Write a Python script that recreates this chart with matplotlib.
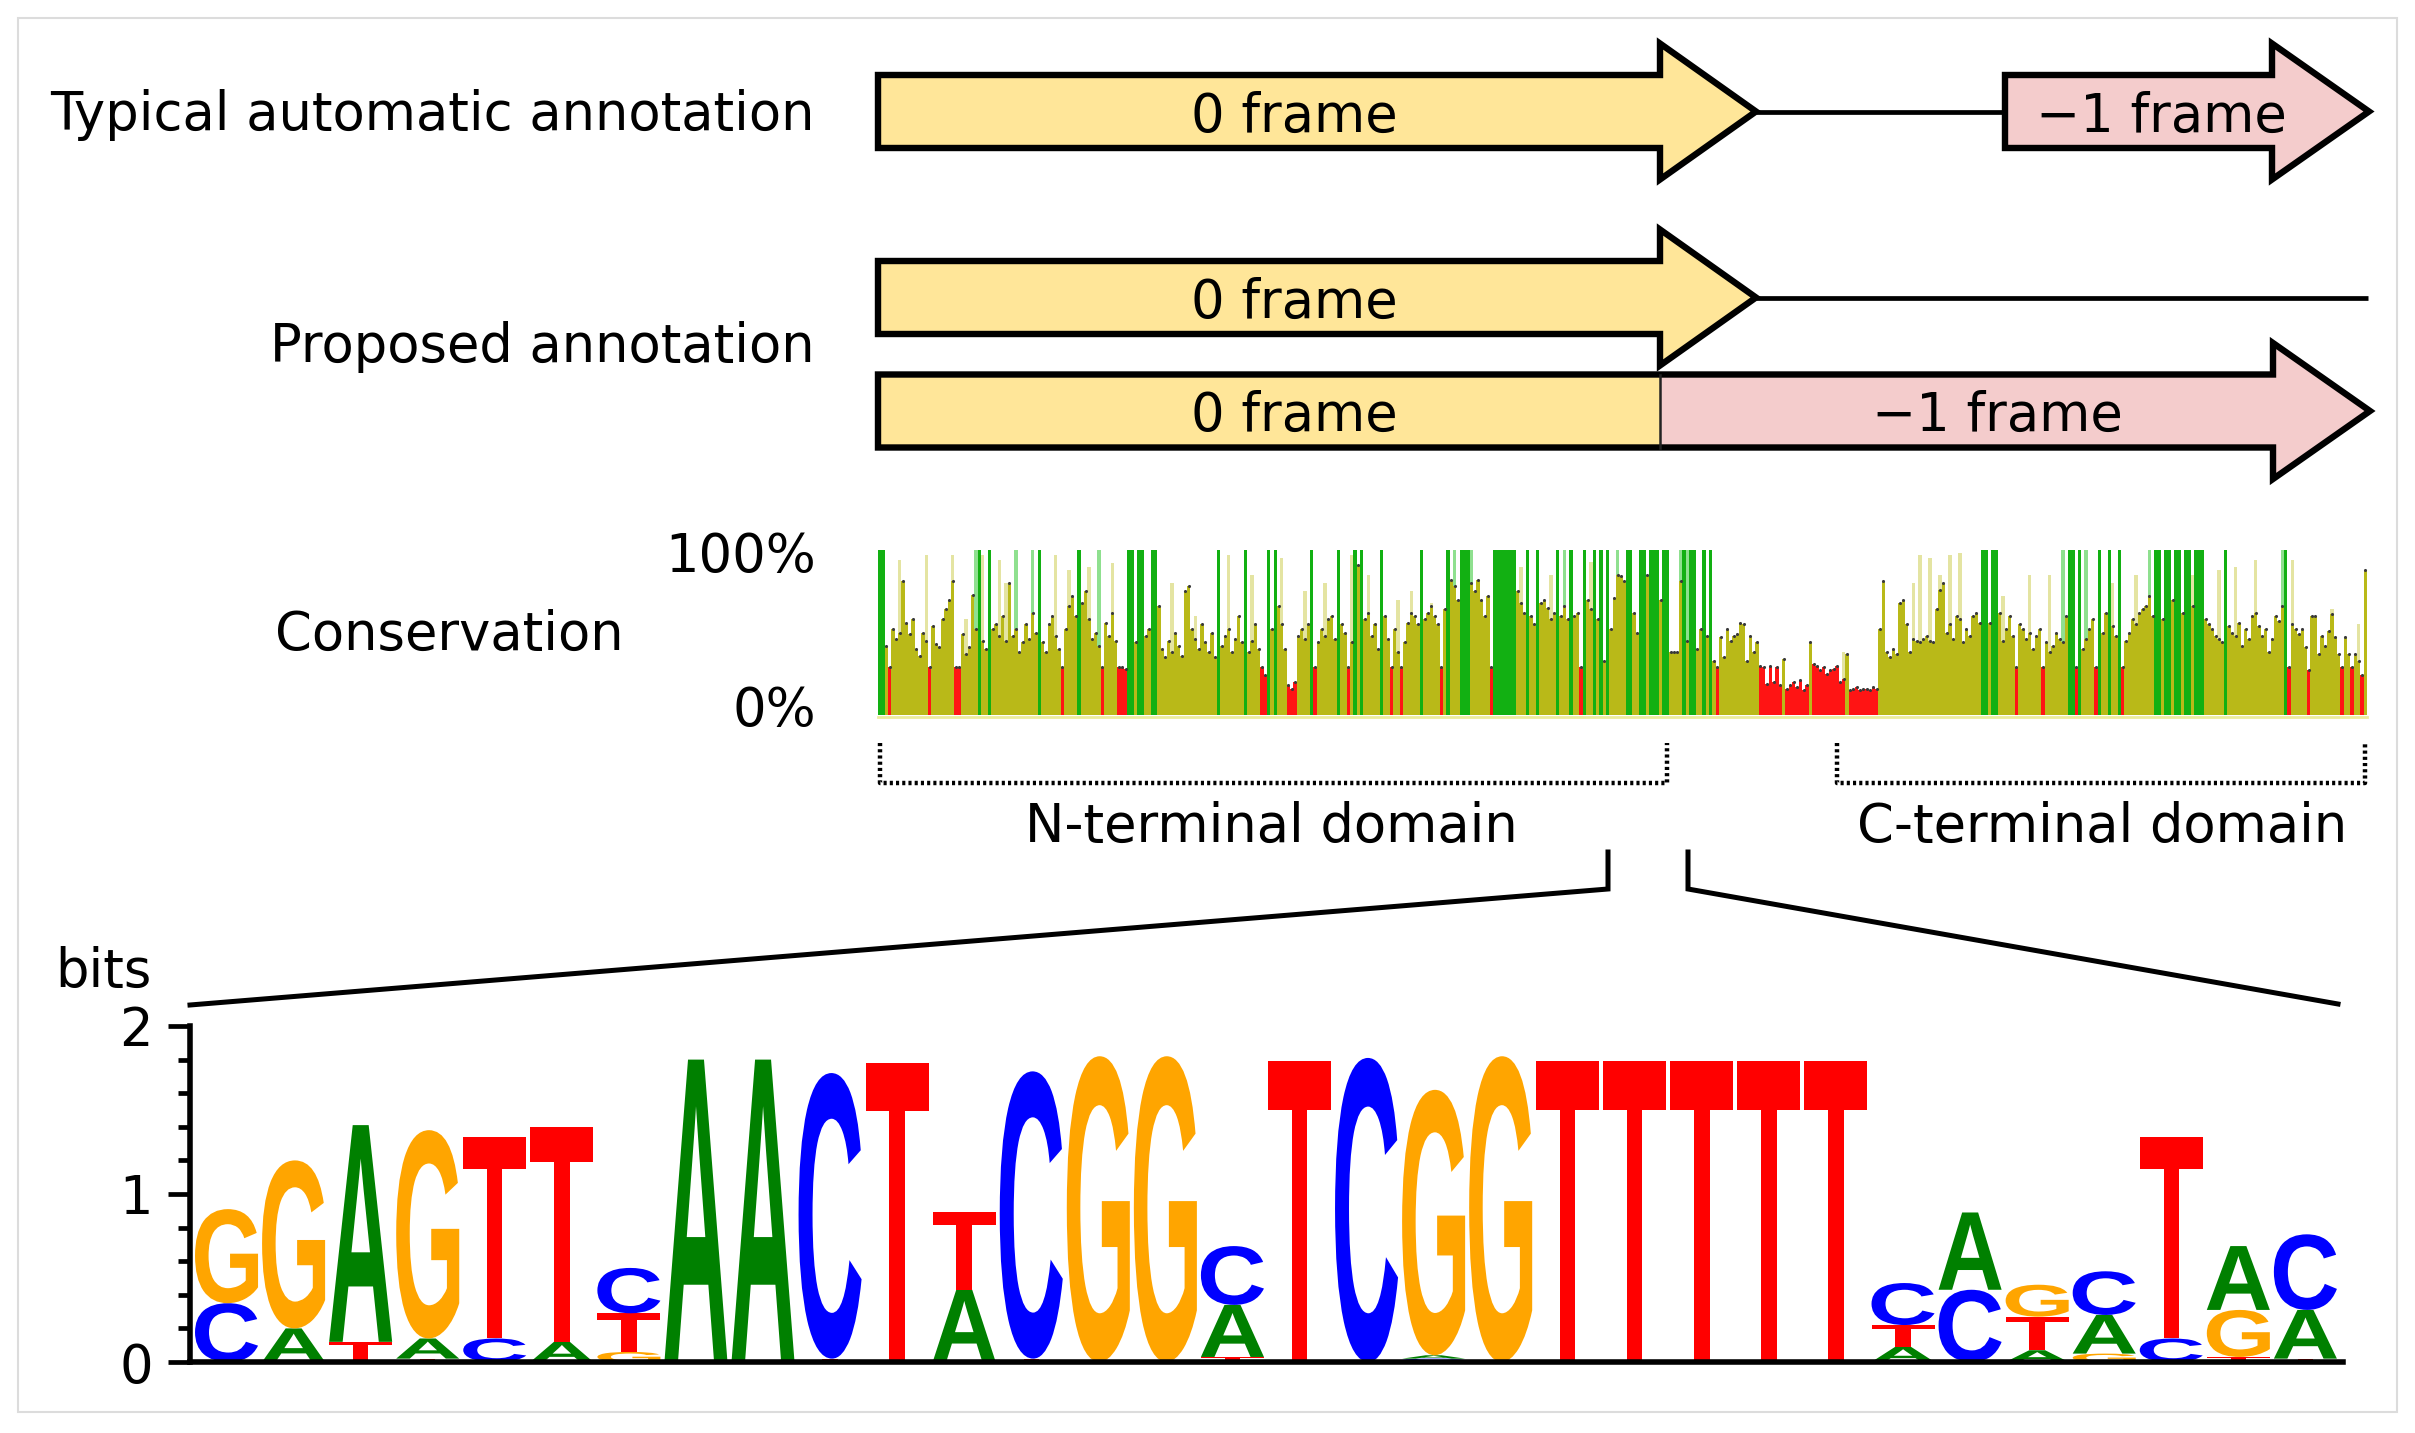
import numpy as np
import matplotlib
matplotlib.use("Agg")
import matplotlib.pyplot as plt
from matplotlib.patches import Polygon, Rectangle, PathPatch
from matplotlib.textpath import TextPath
from matplotlib.font_manager import FontProperties
from matplotlib.transforms import Affine2D
from matplotlib.ticker import MultipleLocator, FixedLocator

W, H = 2415, 1433

# ------------------------------------------------------------------ data
row_labels = ["Typical automatic annotation", "Proposed annotation", "Conservation"]
frame_labels = ["0 frame", "\u22121 frame"]
domain_labels = ["N-terminal domain", "C-terminal domain"]
cons_ticklabels = ["100%", "0%"]

# conservation per alignment column (percent)
conservation = [
    100, 100, 42, 29, 52, 46, 50, 81, 56, 49, 58, 40, 36, 50, 45, 29, 54, 43, 41, 58,
    64, 70, 81, 29, 29, 49, 37, 41, 73, 52, 100, 45, 40, 100, 52, 55, 48, 60, 45, 80,
    48, 52, 38, 44, 55, 46, 62, 50, 100, 44, 38, 55, 60, 48, 40, 29, 52, 66, 72, 60,
    100, 68, 75, 58, 46, 50, 42, 29, 56, 48, 62, 45, 29, 29, 28, 100, 100, 44, 100, 100,
    48, 52, 100, 100, 66, 40, 35, 45, 38, 50, 42, 36, 75, 78, 52, 46, 40, 55, 44, 38,
    50, 35, 100, 42, 48, 52, 38, 46, 60, 44, 100, 38, 45, 55, 40, 29, 24, 100, 52, 100,
    66, 55, 40, 18, 16, 20, 48, 52, 46, 55, 100, 29, 44, 52, 48, 58, 60, 46, 100, 55,
    50, 29, 44, 100, 91, 100, 58, 62, 48, 55, 40, 100, 60, 46, 29, 52, 38, 29, 44, 56,
    62, 60, 55, 100, 58, 62, 66, 60, 55, 29, 64, 100, 82, 78, 70, 100, 100, 100, 80, 75,
    82, 70, 60, 72, 29, 100, 100, 100, 100, 100, 100, 100, 75, 68, 62, 100, 60, 55, 100, 68,
    70, 65, 58, 62, 100, 60, 66, 58, 100, 60, 62, 29, 100, 70, 64, 100, 58, 100, 33, 100,
    52, 71, 85, 84, 81, 100, 100, 62, 50, 100, 100, 85, 100, 100, 100, 70, 100, 100, 38, 38,
    38, 81, 100, 45, 100, 100, 40, 52, 100, 48, 100, 33, 29, 47, 35, 52, 45, 48, 49, 56,
    55, 33, 48, 38, 44, 30, 29, 19, 30, 20, 29, 18, 34, 16, 18, 20, 17, 21, 15, 18,
    44, 31, 30, 27, 29, 25, 27, 28, 30, 20, 22, 37, 15, 16, 17, 15, 16, 16, 15, 17,
    16, 52, 81, 38, 35, 40, 37, 68, 70, 55, 38, 46, 45, 44, 46, 48, 45, 44, 64, 76,
    80, 50, 55, 46, 60, 58, 44, 52, 48, 60, 62, 56, 100, 100, 56, 100, 100, 62, 45, 52,
    60, 48, 29, 55, 52, 46, 50, 40, 48, 52, 29, 44, 38, 42, 50, 46, 44, 60, 100, 100,
    29, 100, 40, 46, 52, 58, 29, 100, 50, 62, 100, 54, 48, 100, 29, 45, 50, 58, 55, 62,
    64, 66, 72, 60, 100, 100, 58, 100, 100, 70, 100, 100, 62, 100, 100, 66, 100, 100, 100, 58,
    55, 52, 48, 46, 44, 100, 54, 50, 48, 56, 42, 52, 46, 60, 62, 54, 48, 52, 38, 46,
    60, 57, 66, 100, 29, 55, 52, 49, 52, 41, 27, 60, 60, 37, 48, 42, 51, 61, 47, 37,
    29, 47, 37, 29, 37, 33, 24, 88,
]

# lighter secondary bars drawn behind some columns
pale_index = [6, 14, 22, 26, 29, 31, 36, 38, 41, 46, 53, 57, 63, 66, 70, 88, 95, 105, 112,
              121, 128, 134, 142, 147, 156, 160, 166, 173, 178, 186, 193, 202, 206, 214,
              222, 241, 243, 250, 272, 290, 311, 313, 316, 319, 322, 325, 338, 346, 352,
              356, 363, 371, 378, 382, 391, 395, 403, 408, 414, 422, 425, 437, 445]
pale_value = [94, 97, 97, 58, 100, 97, 94, 80, 100, 100, 97, 88, 90, 100, 92, 80, 60, 97, 85,
              95, 75, 80, 97, 85, 70, 75, 68, 100, 100, 97, 90, 85, 100, 93,
              100, 100, 100, 100, 30, 38, 80, 97, 95, 85, 97, 98, 72, 85, 85,
              100, 100, 80, 85, 100, 82, 85, 88, 90, 94, 100, 94, 64, 55]

# sequence logo: letters bottom -> top and their heights (bits)
logo_letters = ["CG", "AG", "TA", "TAG", "CT", "AT", "GTC", "A", "A", "TC", "T", "AT",
                "TC", "G", "G", "TAC", "T", "C", "CAG", "G", "T", "T", "T", "T", "T",
                "ATC", "CA", "ATG", "GAC", "CT", "TGA", "TAC"]
logo_heights = [[0.35, 0.56], [0.20, 1.00], [0.12, 1.29], [0.02, 0.12, 1.24],
                [0.14, 1.20], [0.12, 1.28], [0.06, 0.23, 0.27], [1.80], [1.80],
                [0.02, 1.70], [1.78], [0.43, 0.46], [0.02, 1.71], [1.82], [1.82],
                [0.03, 0.31, 0.35], [1.79], [1.81], [0.02, 0.02, 1.58], [1.82],
                [1.79], [1.79], [1.79], [1.79], [1.79],
                [0.09, 0.13, 0.25], [0.43, 0.46], [0.07, 0.20, 0.19], [0.05, 0.23, 0.26],
                [0.14, 1.20], [0.03, 0.28, 0.38], [0.02, 0.29, 0.45]]
logo_yticks = [0, 1, 2]
logo_yticklabels = ["0", "1", "2"]

# ------------------------------------------------------------------ style
FS = 38
plt.rcParams["font.family"] = ["DejaVu Sans"]
YELLOW = "#ffe699"
PINK = "#f4cccc"
GREEN = "#12b012"
OLIVE = "#b9b918"
RED = "#ff1414"
PALE_GREEN = "#8fe08f"
PALE_OLIVE = "#e4e4a2"
base_colors = {"A": "#008000", "C": "#0000ff", "G": "#ffa500", "T": "#ff0000"}

fig = plt.figure(figsize=(W / 100, H / 100), dpi=100)


def fig_rect(x0, y0, x1, y1):
    """pixel box (top-left origin) -> figure fraction rect"""
    return [x0 / W, 1 - y1 / H, (x1 - x0) / W, (y1 - y0) / H]


# ------------------------------------------------------------------ conservation bars
ca = fig.add_axes(fig_rect(878, 550, 2367, 715))
n = len(conservation)
vals = np.array(conservation, dtype=float)
xs = np.arange(n) + 0.5
pcols = [PALE_GREEN if v >= 100 else PALE_OLIVE for v in pale_value]
ca.bar(np.array(pale_index) + 0.5, pale_value, width=1.0, color=pcols,
       edgecolor="none", linewidth=0, zorder=1)
cols = [GREEN if v >= 100 else (RED if v < 32 else OLIVE) for v in vals]
ca.bar(xs, vals, width=1.0, color=cols, edgecolor="none", linewidth=0, zorder=2)
mask = vals < 100
ca.scatter(xs[mask], vals[mask], s=5, color="#3a3a3a", linewidths=0, zorder=3)
ca.axhline(-1.2, color="#ecec9c", lw=2, zorder=0, clip_on=False)
ca.set_xlim(0, n)
ca.set_ylim(0, 100)
ca.axis("off")

# ------------------------------------------------------------------ sequence logo
COLW = 67.06
X0 = 193
la = fig.add_axes(fig_rect(190, 1026, 2343, 1362))
la.set_xlim((190 - X0) / COLW, (2343 - X0) / COLW)
la.set_ylim(0, 2)
lfp = FontProperties(family=["Liberation Sans", "DejaVu Sans"], weight="bold")


def add_letter(ax, ch, x, y, w, h, color):
    tp = TextPath((0, 0), ch, size=1, prop=lfp)
    ext = tp.get_extents()
    tr = Affine2D().translate(-ext.x0, -ext.y0).scale(w / ext.width, h / ext.height).translate(x, y)
    ax.add_patch(PathPatch(tr.transform_path(tp), facecolor=color, edgecolor="none",
                           lw=0, transform=ax.transData, clip_on=False, zorder=2))


for i, (letters, hs) in enumerate(zip(logo_letters, logo_heights)):
    y = 0.0
    for ch, h in zip(letters, hs):
        add_letter(la, ch, i + 0.03, y, 0.94, h, base_colors[ch])
        y += h

for s in ["top", "right"]:
    la.spines[s].set_visible(False)
la.spines["left"].set_linewidth(4.0)
la.spines["bottom"].set_linewidth(4.0)
la.spines["bottom"].set_zorder(3)
la.set_xticks([])
la.yaxis.set_major_locator(FixedLocator(logo_yticks))
la.set_yticklabels(logo_yticklabels)
la.yaxis.set_minor_locator(MultipleLocator(0.2))
la.tick_params(axis="y", which="major", length=15.8, width=3.4, labelsize=FS, pad=11)
la.tick_params(axis="y", which="minor", length=8.6, width=3.4)
la.patch.set_alpha(0)

# ------------------------------------------------------------------ overlay diagram
ov = fig.add_axes([0, 0, 1, 1])
ov.set_xlim(0, W)
ov.set_ylim(H, 0)
ov.axis("off")
ov.patch.set_alpha(0)

ov.add_patch(Rectangle((18, 18), 2379, 1394, fill=False, edgecolor="#dcdcdc", lw=1.5))

LW = 4.6


def arrow(x0, xb, xt, yc, bh, hh, color):
    return Polygon([(x0, yc - bh), (xb, yc - bh), (xb, yc - hh), (xt, yc), (xb, yc + hh),
                    (xb, yc + bh), (x0, yc + bh)], closed=True, facecolor=color,
                   edgecolor="black", lw=LW, joinstyle="miter")


BH, HH = 36.5, 68
# row 1
y1 = 111.5
ov.plot([1756, 2005], [y1, y1], color="black", lw=3.4, solid_capstyle="butt")
ov.add_patch(arrow(878, 1660, 1756, y1, BH, HH, YELLOW))
ov.add_patch(arrow(2005, 2272, 2369, y1, BH, HH, PINK))
# row 2
y2 = 297.5
ov.plot([1756, 2368], [y2, y2], color="black", lw=3.4, solid_capstyle="butt")
ov.add_patch(arrow(878, 1660, 1756, y2, BH, HH, YELLOW))
# row 3
y3 = 411
ov.add_patch(Rectangle((878, y3 - BH), 1660 - 878, 2 * BH, facecolor=YELLOW, edgecolor="none"))
ov.add_patch(Polygon([(1660, y3 - BH), (2273, y3 - BH), (2273, y3 - HH), (2370, y3),
                      (2273, y3 + HH), (2273, y3 + BH), (1660, y3 + BH)], closed=True,
                     facecolor=PINK, edgecolor="none"))
ov.plot([1660, 1660], [y3 - BH, y3 + BH], color="#222222", lw=1.8)
ov.add_patch(Polygon([(878, y3 - BH), (2273, y3 - BH), (2273, y3 - HH), (2370, y3),
                      (2273, y3 + HH), (2273, y3 + BH), (878, y3 + BH)], closed=True,
                     fill=False, edgecolor="black", lw=LW, joinstyle="miter"))

# frame texts
ov.text(1294, 132, frame_labels[0], fontsize=FS, ha="center", va="baseline")
ov.text(2161, 132, frame_labels[1], fontsize=FS, ha="center", va="baseline")
ov.text(1294, 318, frame_labels[0], fontsize=FS, ha="center", va="baseline")
ov.text(1294, 431, frame_labels[0], fontsize=FS, ha="center", va="baseline")
ov.text(1997, 431, frame_labels[1], fontsize=FS, ha="center", va="baseline")

# row labels
ov.text(815, 130, row_labels[0], fontsize=FS, ha="right", va="baseline")
ov.text(815, 362, row_labels[1], fontsize=FS, ha="right", va="baseline")
ov.text(449, 650, row_labels[2], fontsize=FS, ha="center", va="baseline")
ov.text(816, 572, cons_ticklabels[0], fontsize=FS, ha="right", va="baseline")
ov.text(816, 726, cons_ticklabels[1], fontsize=FS, ha="right", va="baseline")

# domain brackets
dot = (0, (0.7, 0.7))
ov.plot([880, 880, 1667, 1667], [743, 783, 783, 743], color="black", lw=3.2, linestyle=dot)
ov.plot([1837, 1837, 2365, 2365], [743, 783, 783, 743], color="black", lw=3.2, linestyle=dot)
ov.text(1271, 842, domain_labels[0], fontsize=FS, ha="center", va="baseline")
ov.text(2102, 842, domain_labels[1], fontsize=FS, ha="center", va="baseline")

# zoom lines
ov.plot([1608, 1608, 190], [852, 889, 1005], color="black", lw=3.6, solid_joinstyle="miter")
ov.plot([1688, 1688, 2338], [852, 889, 1004], color="black", lw=3.6, solid_joinstyle="miter")

ov.text(55, 987, "bits", fontsize=FS, ha="left", va="baseline")

fig.savefig("out.png", dpi=100)
